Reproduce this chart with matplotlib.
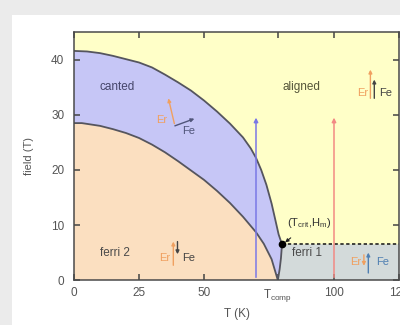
import numpy as np
import matplotlib.pyplot as plt
from matplotlib.patches import Rectangle

plt.rcParams['font.family'] = ['Liberation Sans', 'DejaVu Sans']
plt.rcParams['mathtext.fontset'] = 'custom'
plt.rcParams['mathtext.rm'] = 'Liberation Sans'

# phase boundaries
outer_T = [0, 5, 10, 15, 20, 25, 30, 35, 40, 45, 50, 55, 60, 65, 68, 70, 72, 74, 76, 77.5, 78.7, 79.5, 80,
           79.6, 79.1, 78.4]
outer_H = [41.6, 41.5, 41.2, 40.7, 40.1, 39.5, 38.6, 37.3, 35.9, 34.4, 32.6, 30.6, 28.4, 25.9, 23.9, 22.2,
           20.0, 17.3, 13.9, 10.8, 8.3, 7.2, 6.5, 4.0, 2.0, 0.0]
inner_T = [0, 3, 10, 15, 20, 25, 30, 35, 40, 45, 50, 55, 60, 65, 70, 73, 76, 78.4]
inner_H = [28.5, 28.5, 28.0, 27.4, 26.7, 25.8, 24.6, 23.2, 21.6, 19.9, 18.2, 16.2, 14.0, 11.5, 8.7, 6.6, 3.8, 0.0]

T_comp = 78.4
T_crit, H_m = 80, 6.5
T_max, H_max = 125, 45

x_ticks = [0, 25, 50, T_comp, 100, 125]
x_labels = ['0', '25', '50', r'T$_{\rm comp}$', '100', '125']
y_ticks = [0, 10, 20, 30, 40]

# measurement sweeps (vertical arrows)
sweep_T = [70, 100]
sweep_top = 30
sweep_colors = ['#7a78e6', '#f28a84']

# region labels
region_names = ['canted', 'aligned', 'ferri 2', 'ferri 1']
region_T = [16.5, 87.5, 15.8, 89.5]
region_H = [35.1, 35.0, 4.9, 4.9]
region_colors = ['#45456a', '#55553a', '#4a4a4a', '#4a4a4a']

# little spin sketches: (start T, start H, end T, end H)
er_arrows = [(38.6, 28.4, 36.3, 33.0), (38.2, 2.7, 38.2, 7.0), (114, 33.0, 114, 38.2), (111.5, 4.6, 111.5, 2.6)]
fe_arrows = [(38.8, 28.0, 46.3, 29.3), (39.8, 7.0, 39.8, 4.7), (115.5, 33.0, 115.5, 36.4), (113.2, 1.3, 113.2, 5.0)]
fe_colors = ['#50557a', '#444444', '#444444', '#4f7fb2']
er_text = [(35.8, 29.0), (37.0, 4.0), (113.0, 34.0), (110.5, 3.3)]
fe_text = [(44.0, 27.0), (44.0, 4.0), (120.0, 34.0), (118.7, 3.3)]

fig = plt.figure(figsize=(4, 3.25), dpi=100, facecolor='#ebebeb')
fig.patches.append(Rectangle((0.03, 0), 0.97, 0.954, transform=fig.transFigure,
                             facecolor='white', edgecolor='none', zorder=-10))
ax = fig.add_axes([0.185, 0.138, 0.8125, 0.763])
ax.set_facecolor('#ffffc8')

ax.fill(outer_T + [0], outer_H + [0], color='#c6c6f6', lw=0)
ax.fill(inner_T + [0], inner_H + [0], color='#fbdfc0', lw=0)
low = [(t, h) for t, h in zip(outer_T, outer_H) if h <= H_m and t >= T_comp]
gT = [p[0] for p in low] + [T_max, T_max]
gH = [p[1] for p in low] + [0, H_m]
ax.fill(gT, gH, color='#d3dada', lw=0)

ax.plot(outer_T, outer_H, color='#55555e', lw=1.3)
ax.plot(inner_T, inner_H, color='#55555e', lw=1.3)
ax.plot([T_crit, T_max], [H_m, H_m], color='#222222', lw=1.2, ls=(0, (2, 1.5)))
ax.plot([T_crit], [H_m], 'o', color='black', ms=4.5, zorder=5)

for t, c in zip(sweep_T, sweep_colors):
    ax.annotate('', xy=(t, sweep_top), xytext=(t, 0),
                arrowprops=dict(arrowstyle='-|>', color=c, lw=1.1, mutation_scale=6))

ax.annotate(r'(T$_{\rm crit}$,H$_{\rm m}$)', xy=(T_crit + 0.8, H_m + 0.2), xytext=(90.5, 10.4),
            ha='center', va='center', fontsize=8, color='#333333',
            arrowprops=dict(arrowstyle='-|>', color='#222222', lw=0.8, mutation_scale=5,
                            shrinkA=6, shrinkB=1))

for name, t, h, c in zip(region_names, region_T, region_H, region_colors):
    ax.text(t, h, name, ha='center', va='center', fontsize=8.5, color=c)

for (t0, h0, t1, h1), (tx, hx) in zip(er_arrows, er_text):
    ax.annotate('', xy=(t1, h1), xytext=(t0, h0),
                arrowprops=dict(arrowstyle='-|>', color='#f0a060', lw=1.0, mutation_scale=5,
                                shrinkA=0, shrinkB=0))
    ax.text(tx, hx, 'Er', ha='right', va='center', fontsize=8, color='#f0a060')
for (t0, h0, t1, h1), (tx, hx), c in zip(fe_arrows, fe_text, fe_colors):
    ax.annotate('', xy=(t1, h1), xytext=(t0, h0),
                arrowprops=dict(arrowstyle='-|>', color=c, lw=1.0, mutation_scale=5,
                                shrinkA=0, shrinkB=0))
    ax.text(tx, hx, 'Fe', ha='center', va='center', fontsize=8, color=c)

ax.set_xlim(0, T_max)
ax.set_ylim(0, H_max)
ax.set_xticks(x_ticks)
ax.set_xticklabels(x_labels)
ax.set_yticks(y_ticks)
ax.tick_params(direction='in', top=True, right=True, length=4.5, width=1.1, color='#444444',
               labelsize=8.5, labelcolor='#555555')
ax.tick_params(axis='y', pad=7)
ax.tick_params(axis='x', pad=5)
for s in ax.spines.values():
    s.set_color('#4a4a4a')
    s.set_linewidth(1.1)
ax.set_xlabel('T (K)', fontsize=8.5, color='#555555', labelpad=3)
ax.set_ylabel('field (T)', fontsize=8, color='#555555', labelpad=12)

fig.savefig('out.png', dpi=100, facecolor=fig.get_facecolor())
